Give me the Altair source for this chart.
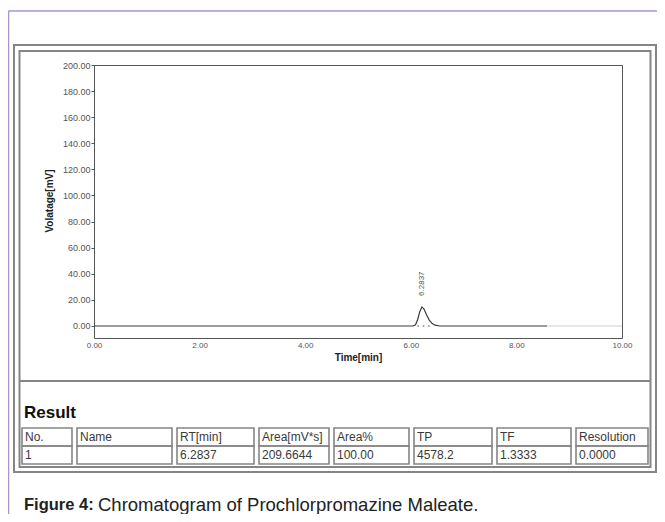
import altair as alt
import pandas as pd

FONT = "Liberation Sans"

# ---------------- data ----------------
# chromatogram trace (time in min, signal in mV)
time_min = [0.00, 6.04, 6.09, 6.13, 6.17, 6.21, 6.25, 6.30, 6.35, 6.40, 6.46, 6.55, 8.58]
volt_mv = [0.0, 0.0, 1.0, 5.0, 11.0, 14.6, 13.0, 8.5, 4.5, 2.0, 0.6, 0.0, 0.0]
# faint continuation of the baseline
tail_time = [8.58, 10.00]
tail_mv = [0.0, 0.0]
# integration markers under the peak
mark_time = [6.14, 6.24, 6.34]
mark_mv = [0.0, 0.0, 0.0]
# peak annotation
peak_label = ["6.2837"]
peak_time = [6.21]
peak_mv = [14.6]

x_ticks = [0.0, 2.0, 4.0, 6.0, 8.0, 10.0]
y_ticks = [0.0, 20.0, 40.0, 60.0, 80.0, 100.0, 120.0, 140.0, 160.0, 180.0, 200.0]

# result table
headers = ["No.", "Name", "RT[min]", "Area[mV*s]", "Area%", "TP", "TF", "Resolution"]
row_values = ["1", "", "6.2837", "209.6644", "100.00", "4578.2", "1.3333", "0.0000"]

section_title = "Result"
caption_bold = "Figure 4:"
caption_rest = "Chromatogram of Prochlorpromazine Maleate."

# ---------------- layout (not data) ----------------
W, H = 528, 273          # plot area
OX, OY = 94, 65          # plot origin on the page
SVG_W, SVG_H = 649, 506
col_units = [50, 95, 77, 70, 75, 78, 74, 72]
col_gap = 5
GRAY = "#858585"
PURPLE = "#ab94cc"


def rx(px):
    return px - OX


def ry(py):
    return py - OY


# ---------------- chromatogram ----------------
trace_df = pd.DataFrame({"t": time_min, "mv": volt_mv})
tail_df = pd.DataFrame({"t": tail_time, "mv": tail_mv})
mark_df = pd.DataFrame({"t": mark_time, "mv": mark_mv})
label_df = pd.DataFrame({"t": peak_time, "mv": peak_mv, "label": peak_label})

xs = alt.Scale(domain=[0, 10], nice=False, zero=False)
ys = alt.Scale(domain=[-9.2, 200], nice=False, zero=False)

x_axis = alt.Axis(values=x_ticks, format=".2f", title="Time[min]", grid=False,
                  labelFontSize=8, labelColor="#555", labelFont=FONT, labelFlush=False,
                  labelOverlap=False, tickCount=6,
                  tickSize=0, labelPadding=3, domain=False,
                  titleFont=FONT, titleFontSize=10, titleFontWeight="bold",
                  titleColor="#222", titlePadding=3)
y_axis = alt.Axis(values=y_ticks, format=".2f", title="Volatage[mV]", grid=False,
                  labelFontSize=9, labelColor="#555", labelFont=FONT, labelFlush=False,
                  labelOverlap=False, labelSeparation=0, tickCount=11,
                  tickSize=3, tickColor="#555", labelPadding=1, domain=False,
                  titleFont=FONT, titleFontSize=10, titleFontWeight="bold",
                  titleColor="#222", titleX=-45, titleY=H / 2 - 1,
                  titleAlign="center", titleBaseline="middle", titleAngle=270)

base = alt.Chart(trace_df).encode(
    x=alt.X("t:Q", scale=xs, axis=x_axis),
    y=alt.Y("mv:Q", scale=ys, axis=y_axis),
)
trace = base.mark_line(color="#3a3a3a", strokeWidth=1.2)
tail = alt.Chart(tail_df).mark_line(color="#cfcfcf", strokeWidth=1.2).encode(
    x=alt.X("t:Q", scale=xs, axis=x_axis),
    y=alt.Y("mv:Q", scale=ys, axis=y_axis),
)
marks = alt.Chart(mark_df).mark_point(shape="square", size=3, filled=True,
                                      color="#9a9a9a", opacity=1).encode(
    x=alt.X("t:Q", scale=xs, axis=x_axis),
    y=alt.Y("mv:Q", scale=ys, axis=y_axis),
)
plabel = alt.Chart(label_df).mark_text(angle=270, align="left", baseline="middle",
                                       dx=11, fontSize=8, font=FONT, color="#555").encode(
    x=alt.X("t:Q", scale=xs, axis=x_axis),
    y=alt.Y("mv:Q", scale=ys, axis=y_axis),
    text="label:N",
)
chrom = alt.layer(trace, tail, marks, plabel)

# ---------------- result table ----------------
rows = []
x0 = 0
for i, (h, v) in enumerate(zip(headers, row_values)):
    x1 = x0 + col_units[i]
    rows.append({"col": i, "x0": x0, "x1": x1, "row": "header", "label": h})
    rows.append({"col": i, "x0": x0, "x1": x1, "row": "data", "label": v})
    x0 = x1 + col_gap
total_units = x0 - col_gap
table_df = pd.DataFrame(rows)

tx = alt.Scale(domain=[0, total_units], range=[rx(22), rx(648)], nice=False, zero=False)
ty = alt.Scale(domain=["header", "data"], range=[ry(428), ry(464)], paddingInner=0, paddingOuter=0)

cells = alt.Chart(table_df).mark_rect(fillOpacity=0, stroke=GRAY, strokeWidth=1.6).encode(
    x=alt.X("x0:Q", scale=tx, axis=None),
    x2="x1:Q",
    y=alt.Y("row:N", scale=ty, axis=None),
)
cell_text = alt.Chart(table_df).mark_text(align="left", baseline="middle", dx=3,
                                          fontSize=12, font=FONT, color="#3a3a3a").encode(
    x=alt.X("x0:Q", scale=tx, axis=None),
    y=alt.Y("row:N", scale=ty, axis=None),
    text="label:N",
)
table = alt.layer(cells, cell_text)

# ---------------- decoration ----------------
one = pd.DataFrame({"k": [0]})
purple_top = alt.Chart(one).mark_rule(color=PURPLE, strokeWidth=1.5).encode(
    x=alt.value(rx(8.5)), x2=alt.value(rx(657)), y=alt.value(ry(11)))
purple_left = alt.Chart(one).mark_rule(color=PURPLE, strokeWidth=1.5).encode(
    x=alt.value(rx(8.5)), y=alt.value(ry(11)), y2=alt.value(ry(514)))
box_outer = alt.Chart(one).mark_rect(fillOpacity=0, stroke=GRAY, strokeWidth=2).encode(
    x=alt.value(rx(14)), x2=alt.value(rx(656)), y=alt.value(ry(45)), y2=alt.value(ry(472)))
box_inner = alt.Chart(one).mark_rect(fillOpacity=0, stroke=GRAY, strokeWidth=2).encode(
    x=alt.value(rx(19.5)), x2=alt.value(rx(650.5)), y=alt.value(ry(51)), y2=alt.value(ry(467)))
separator = alt.Chart(one).mark_rule(color=GRAY, strokeWidth=2).encode(
    x=alt.value(rx(19.5)), x2=alt.value(rx(650.5)), y=alt.value(ry(381)))

result_txt = alt.Chart(one).mark_text(align="left", baseline="middle", fontSize=17,
                                      fontWeight="bold", font=FONT, color="#111").encode(
    x=alt.value(rx(24)), y=alt.value(ry(413)), text=alt.value(section_title))
cap_b = alt.Chart(one).mark_text(align="left", baseline="middle", fontSize=16.5,
                                 fontWeight="bold", font=FONT, color="#222").encode(
    x=alt.value(rx(24)), y=alt.value(ry(505)), text=alt.value(caption_bold))
cap_r = alt.Chart(one).mark_text(align="left", baseline="middle", fontSize=18.5,
                                 font=FONT, color="#222").encode(
    x=alt.value(rx(98)), y=alt.value(ry(505)), text=alt.value(caption_rest))

chart = alt.layer(
    purple_top, purple_left, box_outer, box_inner, separator,
    chrom, table, result_txt, cap_b, cap_r,
).resolve_scale(x="independent", y="independent").properties(
    width=W, height=H,
    autosize=alt.AutoSizeParams(type="none"),
    padding={"left": OX - 8, "top": OY - 8,
             "right": SVG_W - (OX - 8) - W, "bottom": SVG_H - (OY - 8) - H},
    background="white",
).configure_view(stroke="#555", strokeWidth=1).configure_axis(labelOverlap=False)

chart.save("out.html", embed_options={"renderer": "svg", "actions": False})
